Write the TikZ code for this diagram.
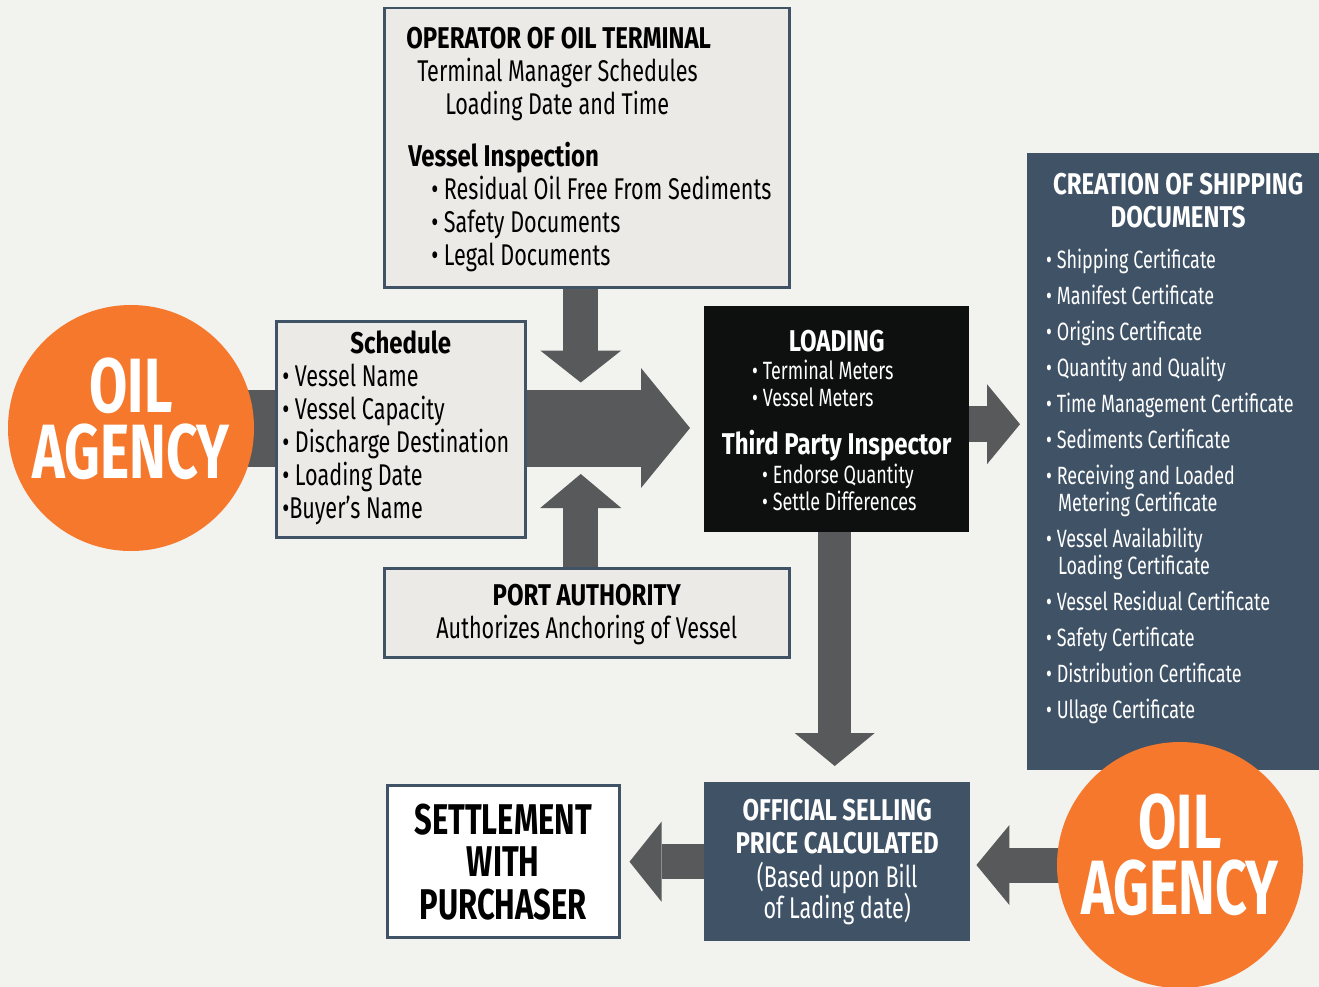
\documentclass[tikz,border=0pt]{standalone}
\usepackage{fontspec}
\setmainfont{Fira Sans}[FakeStretch=0.72]
\newfontfamily\heavy{Fira Sans}[FakeStretch=0.8]
\usetikzlibrary{arrows.meta}
\definecolor{paper}{HTML}{F2F2EE}
\definecolor{boxgray}{HTML}{EBEAE7}
\definecolor{slateblue}{HTML}{3F5266}
\definecolor{agencyorange}{HTML}{F5782D}
\definecolor{arrowgray}{HTML}{58595B}
\definecolor{loadblack}{HTML}{0E100F}
\pgfdeclarelayer{back}
\pgfdeclarelayer{flow}
\pgfsetlayers{back,flow,main}
\newcommand{\fs}[2]{\fontsize{#1}{#2}\selectfont}
\newcommand{\headfont}{\heavy\bfseries}
% width, height, first baseline, text
\newcommand{\boxpanel}[4]{\begin{minipage}[c][#2][t]{#1}\rule{0pt}{#3}#4\end{minipage}}

\begin{document}
\begin{tikzpicture}[x=1pt, y=-1pt,
  panel/.style={inner sep=0pt, anchor=north west},
  graybox/.style={panel, draw=slateblue, line width=2.5pt, fill=boxgray},
  flowarrow/.style n args={3}{draw=arrowgray, line width=#1, line cap=butt,
    -{Triangle[width=#2, length=#3, line width=0pt]}},
  agency/.style={circle, fill=agencyorange, minimum size=246pt, inner sep=0pt,
    text=white, font=\bfseries\fs{77}{66}}
]
\useasboundingbox (0,0) rectangle (1319,987);
\begin{pgfonlayer}{back}
  \fill[paper] (0,0) rectangle (1319,987);
\end{pgfonlayer}

\node[graybox, font=\fs{30}{33}] (op) at (383,7) {\boxpanel{405pt}{279pt}{40pt}{%
  \hspace*{22pt}{\headfont OPERATOR OF OIL TERMINAL}\\
  \hspace*{33pt}Terminal Manager Schedules\\
  \hspace*{61pt}Loading Date and Time\\[19pt]
  \hspace*{24pt}{\headfont Vessel Inspection}\\
  \hspace*{47pt}\textbullet\ Residual Oil Free From Sediments\\
  \hspace*{47pt}\textbullet\ Safety Documents\\
  \hspace*{47pt}\textbullet\ Legal Documents}};

\node[graybox, font=\fs{30}{33}] (sched) at (275,320) {\boxpanel{249pt}{216pt}{32pt}{%
  \makebox[\linewidth]{\headfont Schedule}\\
  \hspace*{6pt}\textbullet\ Vessel Name\\
  \hspace*{6pt}\textbullet\ Vessel Capacity\\
  \hspace*{6pt}\textbullet\ Discharge Destination\\
  \hspace*{6pt}\textbullet\ Loading Date\\
  \hspace*{6pt}\textbullet Buyer’s Name}};

\node[graybox, font=\fs{30}{33}] (port) at (383,567) {\boxpanel{405pt}{89pt}{37pt}{\centering
  {\headfont PORT AUTHORITY}\\
  Authorizes Anchoring of Vessel}};

\node[panel, fill=loadblack, text=white, font=\fs{25}{27}] (load) at (704,306) {\boxpanel{265pt}{226pt}{45pt}{%
  \makebox[\linewidth]{\fs{30}{27}\headfont LOADING}\\[1pt]
  \hspace*{48pt}\textbullet\ Terminal Meters\\
  \hspace*{48pt}\textbullet\ Vessel Meters\\[21pt]
  \makebox[\linewidth]{\fs{30}{27}\headfont Third Party Inspector}\\[2pt]
  \hspace*{58pt}\textbullet\ Endorse Quantity\\
  \hspace*{58pt}\textbullet\ Settle Differences}};

\node[panel, fill=slateblue, text=white, font=\fs{25}{27}] (ship) at (1027,153) {\boxpanel{292pt}{617pt}{41pt}{%
  \makebox[\linewidth]{\hspace*{10pt}\fs{30}{33}\headfont CREATION OF SHIPPING}\\[6pt]
  \makebox[\linewidth]{\hspace*{10pt}\fs{30}{33}\headfont DOCUMENTS}\\[14pt]
  \hspace*{19pt}\textbullet\ Shipping Certificate\\[9pt]
  \hspace*{19pt}\textbullet\ Manifest Certificate\\[9pt]
  \hspace*{19pt}\textbullet\ Origins Certificate\\[9pt]
  \hspace*{19pt}\textbullet\ Quantity and Quality\\[9pt]
  \hspace*{19pt}\textbullet\ Time Management Certificate\\[9pt]
  \hspace*{19pt}\textbullet\ Sediments Certificate\\[9pt]
  \hspace*{19pt}\textbullet\ Receiving and Loaded\\
  \hspace*{31pt}Metering Certificate\\[9pt]
  \hspace*{19pt}\textbullet\ Vessel Availability\\
  \hspace*{31pt}Loading Certificate\\[9pt]
  \hspace*{19pt}\textbullet\ Vessel Residual Certificate\\[9pt]
  \hspace*{19pt}\textbullet\ Safety Certificate\\[9pt]
  \hspace*{19pt}\textbullet\ Distribution Certificate\\[9pt]
  \hspace*{19pt}\textbullet\ Ullage Certificate}};

\node[panel, fill=slateblue, text=white, font=\fs{30}{33}] (osp) at (704,782) {\boxpanel{266pt}{159pt}{38pt}{\centering
  {\headfont OFFICIAL SELLING}\\
  {\headfont PRICE CALCULATED}\\[1pt]
  (Based upon Bill\\[-2pt]
  of Lading date)}};

\node[graybox, fill=white, font=\bfseries\fs{43}{42.5}] (settle) at (386,784) {\boxpanel{232pt}{152pt}{49pt}{\centering
  SETTLEMENT\\
  WITH\\
  PURCHASER}};

\node[agency] (agencyL) at (131,428) {\boxpanel{150pt}{150pt}{59pt}{\centering OIL\\\makebox[\linewidth]{AGENCY}}};
\node[agency] (agencyR) at (1180,865) {\boxpanel{150pt}{150pt}{58pt}{\centering OIL\\\makebox[\linewidth]{AGENCY}}};

\begin{pgfonlayer}{flow}
  \draw[flowarrow={77pt}{120pt}{49pt}, shorten >=14pt] (agencyL.center) -- (agencyL.center -| load.west);
  \draw[flowarrow={35pt}{81pt}{32pt}] ([xshift=-6pt]op.south) -- ++(0,94);
  \draw[flowarrow={35pt}{81pt}{34pt}] ([xshift=-6pt]port.north) -- ++(0,-93);
  \draw[flowarrow={36pt}{80pt}{33pt}, shorten >=7pt] ([yshift=-5pt]load.east) -- ([yshift=-5pt]load.east -| ship.west);
  \draw[flowarrow={33pt}{80pt}{33pt}, shorten >=16pt] ([xshift=-2pt]load.south) -- ([xshift=-2pt]load.south |- osp.north);
  \draw[flowarrow={35pt}{80pt}{32pt}, shorten >=9pt] (osp.west) -- (osp.west -| settle.east);
  \draw[flowarrow={35pt}{80pt}{33pt}, shorten >=6pt] (agencyR.center) -- (agencyR.center -| osp.east);
\end{pgfonlayer}
\end{tikzpicture}
\end{document}
